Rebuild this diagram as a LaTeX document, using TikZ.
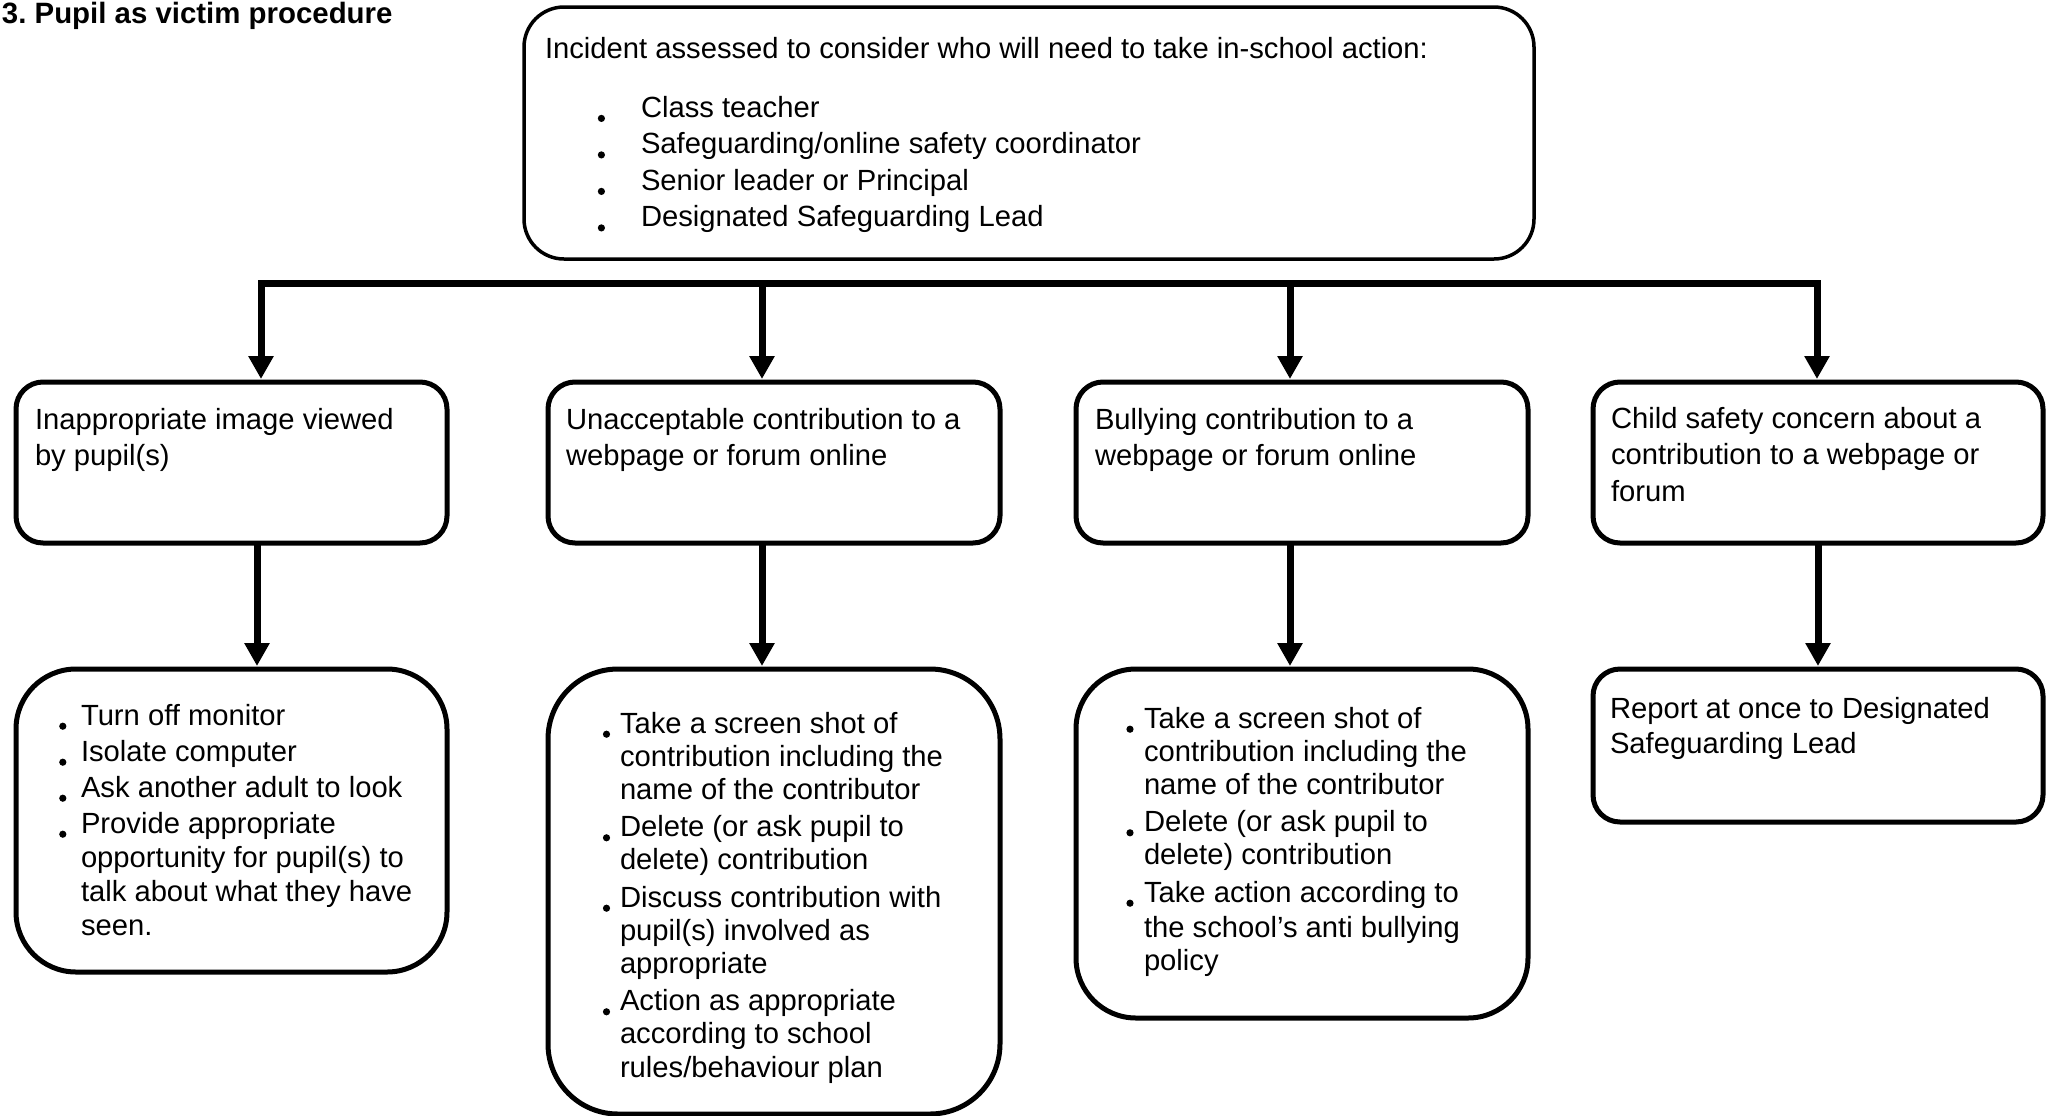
\documentclass[tikz,border=0pt]{standalone}
\usepackage{fontspec}
\setmainfont{Liberation Sans}
\usetikzlibrary{arrows.meta,calc}
\frenchspacing
\newcommand\bdot[1]{\leavevmode\llap{\tikz[baseline=0pt]\fill[black] (0pt,-0.6pt) circle (1.8pt);\hspace{#1}}}
\newcommand\txtA{\fontsize{14.6pt}{18.25pt}\selectfont}
\newcommand\txtB{\fontsize{14.6pt}{16.6pt}\selectfont}
\newcommand\txtC{\fontsize{14.6pt}{17pt}\selectfont}
\newcommand\txtD{\fontsize{14.6pt}{17.5pt}\selectfont}
\begin{document}
\begin{tikzpicture}[x=0.5pt,y=-0.5pt,
  box/.style={draw=black, line width=2.5pt, rounded corners=13.5pt, inner sep=0pt, outer sep=0pt, fill=white},
  topbox/.style={box, line width=1.75pt, rounded corners=20pt},
  txt/.style={anchor=base west, inner sep=0pt, outer sep=0pt},
  conn/.style={line width=3.5pt, line join=miter, -{Triangle[length=11.5pt,width=12pt]}, shorten >=1.5pt}]
\useasboundingbox (0,0) rectangle (2053,1115);
\fill[white] (0,0) rectangle (2053,1115);
% boxes
\node[topbox, minimum width=505pt, minimum height=126pt] (top) at (1029,133) {};
\node[box, minimum width=215.5pt, minimum height=80.5pt] (b1) at (231.5,462.5) {};
\node[box, minimum width=226pt, minimum height=80.5pt] (b2) at (774,462.5) {};
\node[box, minimum width=226pt, minimum height=80.5pt] (b3) at (1302,462.5) {};
\node[box, minimum width=225pt, minimum height=80.5pt] (b4) at (1818,462.5) {};
\node[box, rounded corners=30pt, minimum width=215.5pt, minimum height=151.5pt] (c1) at (231.5,820.5) {};
\node[box, rounded corners=35pt, minimum width=226pt, minimum height=222.5pt] (c2) at (774,891.5) {};
\node[box, rounded corners=30pt, minimum width=226pt, minimum height=174.5pt] (c3) at (1302,843.5) {};
\node[box, minimum width=225pt, minimum height=76.5pt] (c4) at (1818,745.5) {};
% bus
\coordinate (j1) at (261,283);
\coordinate (j2) at (762,283);
\coordinate (j3) at (1290,283);
\coordinate (j4) at (1817,283);
\draw[conn, {Triangle[length=11.5pt,width=12pt]}-{Triangle[length=11.5pt,width=12pt]}, shorten <=1.5pt]
  (j1 |- b1.north) -- (j1) -- (j4) -- (j4 |- b4.north);
\draw[conn] (j2) -- (j2 |- b2.north);
\draw[conn] (j3) -- (j3 |- b3.north);
% second level arrows
\draw[conn] ($(b1.south)+(25.5,0)$) -- ($(c1.north)+(25.5,0)$);
\draw[conn] ($(b2.south)+(-12,0)$) -- ($(c2.north)+(-12,0)$);
\draw[conn] ($(b3.south)+(-12,0)$) -- ($(c3.north)+(-12,0)$);
\draw[conn] (b4.south) -- (c4.north);
% texts
\node[txt] (title) at (2,23.5) {\fontsize{14.7pt}{17pt}\selectfont\bfseries 3. Pupil as victim procedure};
\node[txt] (ttop) at (545,58) {\parbox[t]{480pt}{\txtA\raggedright Incident assessed to consider who will need to take in-school action:\\[11.35pt]
\hspace*{48pt}\bdot{18pt}Class teacher\\
\hspace*{48pt}\bdot{18pt}Safeguarding/online safety coordinator\\
\hspace*{48pt}\bdot{18pt}Senior leader or Principal\\
\hspace*{48pt}\bdot{18pt}Designated Safeguarding Lead}};
\node[txt] (t1) at (35,429) {\parbox[t]{210pt}{\txtA\raggedright Inappropriate image viewed\\by pupil(s)}};
\node[txt] (t2) at (566,429) {\parbox[t]{210pt}{\txtA\raggedright Unacceptable contribution to a\\webpage or forum online}};
\node[txt] (t3) at (1095,429) {\parbox[t]{210pt}{\txtA\raggedright Bullying contribution to a\\webpage or forum online}};
\node[txt] (t4) at (1611,428) {\parbox[t]{210pt}{\txtA\raggedright Child safety concern about a\\contribution to a webpage or\\forum}};
\node[txt] (u1) at (81,725) {\parbox[t]{200pt}{\txtC\raggedright
\bdot{7.3pt}Turn off monitor\\[1pt]
\bdot{7.3pt}Isolate computer\\[1pt]
\bdot{7.3pt}Ask another adult to look\\[1pt]
\bdot{7.3pt}Provide appropriate\\opportunity for pupil(s) to\\talk about what they have\\seen.}};
\node[txt] (u2) at (620,733) {\parbox[t]{200pt}{\txtB\raggedright
\bdot{4.95pt}Take a screen shot of\\contribution including the\\name of the contributor\\[2pt]
\bdot{4.95pt}Delete (or ask pupil to\\delete) contribution\\[2pt]
\bdot{4.95pt}Discuss contribution with\\pupil(s) involved as\\appropriate\\[2pt]
\bdot{4.95pt}Action as appropriate\\according to school\\rules/behaviour plan}};
\node[txt] (u3) at (1144,728) {\parbox[t]{200pt}{\txtB\raggedright
\bdot{5.2pt}Take a screen shot of\\contribution including the\\name of the contributor\\[2pt]
\bdot{5.2pt}Delete (or ask pupil to\\delete) contribution\\[2pt]
\bdot{5.2pt}Take action according to\\[1pt]the school’s anti bullying\\policy}};
\node[txt] (u4) at (1610,718) {\parbox[t]{210pt}{\txtD\raggedright Report at once to Designated\\Safeguarding Lead}};
\end{tikzpicture}
\end{document}
